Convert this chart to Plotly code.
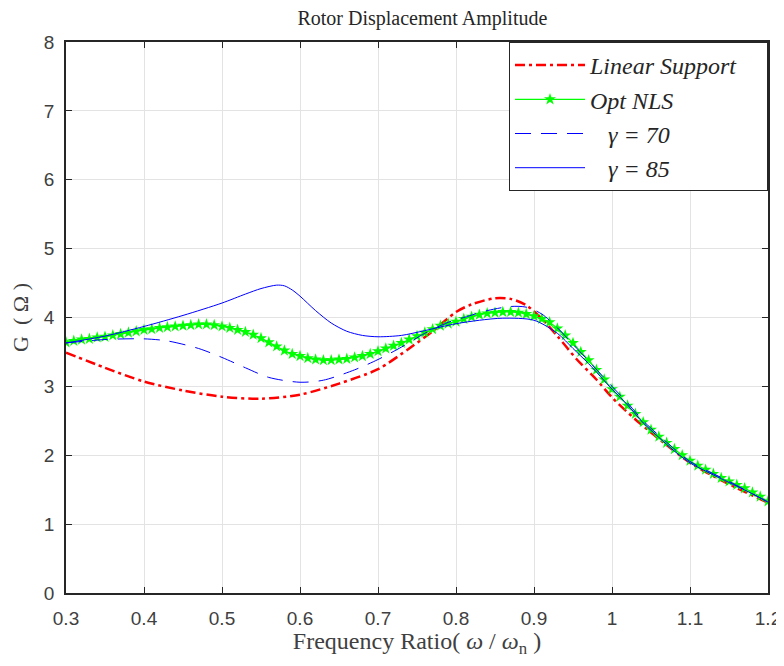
import plotly.graph_objects as go

# ---- data ----
x_opt = [round(0.30 + 0.01 * i, 2) for i in range(91)]
g_opt = [3.64, 3.66, 3.68, 3.69, 3.71, 3.72, 3.74, 3.76, 3.78, 3.80,
         3.82, 3.83, 3.85, 3.86, 3.87, 3.88, 3.89, 3.90, 3.90, 3.89,
         3.87, 3.85, 3.82, 3.79, 3.75, 3.70, 3.64, 3.58, 3.52, 3.47,
         3.44, 3.41, 3.39, 3.38, 3.38, 3.39, 3.40, 3.42, 3.44, 3.47,
         3.51, 3.55, 3.59, 3.63, 3.68, 3.73, 3.78, 3.83, 3.88, 3.91,
         3.94, 3.98, 4.01, 4.04, 4.06, 4.07, 4.08, 4.08, 4.07, 4.05,
         4.02, 3.98, 3.93, 3.84, 3.74, 3.63, 3.50, 3.38, 3.24, 3.10,
         2.96, 2.85, 2.72, 2.60, 2.48, 2.37, 2.27, 2.18, 2.09, 2.00,
         1.92, 1.85, 1.79, 1.73, 1.67, 1.62, 1.57, 1.52, 1.46, 1.40,
         1.33]

x_lin = [0.30, 0.35, 0.40, 0.45, 0.50, 0.55, 0.60, 0.65, 0.70, 0.74, 0.77,
         0.80, 0.82, 0.85, 0.87, 0.89, 0.91, 0.93, 0.955, 0.98, 1.00, 1.03,
         1.06, 1.10, 1.15, 1.20]
g_lin = [3.49, 3.27, 3.07, 2.94, 2.85, 2.82, 2.88, 3.04, 3.25, 3.55, 3.80,
         4.08, 4.19, 4.28, 4.27, 4.18, 3.98, 3.73, 3.39, 3.10, 2.84, 2.52,
         2.24, 1.89, 1.58, 1.31]

x_g70 = [0.30, 0.35, 0.40, 0.43, 0.47, 0.50, 0.53, 0.56, 0.60, 0.63, 0.67,
         0.70, 0.73, 0.76, 0.79, 0.81, 0.84, 0.87, 0.89, 0.91, 0.93, 0.95,
         0.97, 1.00, 1.02, 1.04, 1.07, 1.10, 1.15, 1.20]
g_g70 = [3.63, 3.68, 3.69, 3.66, 3.55, 3.42, 3.27, 3.13, 3.06, 3.09, 3.24,
         3.39, 3.57, 3.77, 3.93, 4.00, 4.10, 4.16, 4.15, 4.05, 3.85, 3.61,
         3.37, 3.00, 2.76, 2.50, 2.19, 1.91, 1.62, 1.32]

x_g85 = [0.30, 0.35, 0.40, 0.45, 0.50, 0.53, 0.55, 0.57, 0.58, 0.59, 0.60,
         0.62, 0.64, 0.66, 0.68, 0.70, 0.73, 0.76, 0.80, 0.83, 0.86, 0.90,
         0.93, 0.95, 0.97, 1.00, 1.02, 1.04, 1.06, 1.08, 1.10, 1.12, 1.14,
         1.16, 1.18, 1.20]
g_g85 = [3.63, 3.73, 3.87, 4.03, 4.21, 4.34, 4.42, 4.47, 4.46, 4.40, 4.31,
         4.10, 3.92, 3.80, 3.74, 3.72, 3.74, 3.81, 3.91, 3.96, 3.99, 3.96,
         3.77, 3.55, 3.33, 2.96, 2.73, 2.47, 2.26, 2.06, 1.89, 1.77, 1.66,
         1.55, 1.44, 1.32]

x_ticks = [0.3, 0.4, 0.5, 0.6, 0.7, 0.8, 0.9, 1.0, 1.1, 1.2]
y_ticks = [0, 1, 2, 3, 4, 5, 6, 7, 8]

SERIF = "Liberation Serif, Times New Roman, serif"
SANS = "Liberation Sans, Arial, sans-serif"

fig = go.Figure()
fig.add_trace(go.Scatter(
    x=x_lin, y=g_lin, mode="lines", name="<i>Linear Support</i>    ",
    line=dict(color="#FF0000", width=2.5, dash="10px,4px,3px,4px", shape="spline", smoothing=0.8)))
fig.add_trace(go.Scatter(
    x=x_opt, y=g_opt, mode="lines+markers", name="<i>Opt NLS</i>",
    line=dict(color="#00FF00", width=1.2, shape="spline", smoothing=0.6),
    marker=dict(symbol="star", size=9, color="#00FF00", line=dict(width=0))))
fig.add_trace(go.Scatter(
    x=x_g70, y=g_g70, mode="lines", name="   <i>γ = 70</i>",
    line=dict(color="#0000FF", width=1, dash="16px,10px", shape="spline", smoothing=0.8)))
fig.add_trace(go.Scatter(
    x=x_g85, y=g_g85, mode="lines", name="   <i>γ = 85</i>",
    line=dict(color="#0000FF", width=1, shape="spline", smoothing=0.8)))

axis_common = dict(
    showgrid=True, gridcolor="#E3E3E3", gridwidth=1,
    showline=True, linecolor="#262626", linewidth=1.5, mirror="ticks",
    ticks="inside", ticklen=6, tickwidth=1, tickcolor="#262626",
    tickfont=dict(family=SANS, size=19, color="#404040"),
    zeroline=False, ticklabeloverflow="allow", automargin=False,
)

# page body has an 8px margin, so the figure is sized/offset accordingly
fig.update_layout(
    width=776, height=650,
    margin=dict(l=58, r=16, t=34, b=65, autoexpand=False),
    paper_bgcolor="white", plot_bgcolor="white",
    title=dict(text="Rotor Displacement Amplitude", x=0.534, xanchor="center",
               y=0.984, yanchor="middle",
               font=dict(family=SERIF, size=20, color="#262626")),
    xaxis=dict(range=[0.3, 1.2], tickvals=x_ticks,
               ticktext=[f"{v:g}" for v in x_ticks], ticklabelstandoff=7,
               title=dict(text="Frequency Ratio( <i>ω</i> / <i>ω</i><sub>n</sub> )",
                          font=dict(family=SERIF, size=24, color="#404040"), standoff=2),
               **axis_common),
    yaxis=dict(range=[0, 8], tickvals=y_ticks, ticklabelstandoff=6,
               title=dict(text="G  ( Ω )", font=dict(family=SERIF, size=22, color="#404040"),
                          standoff=10),
               **axis_common),
    legend=dict(x=1, xanchor="right", y=1, yanchor="top",
                bgcolor="white", bordercolor="#262626", borderwidth=1,
                font=dict(family=SERIF, size=24, color="#262626"),
                itemwidth=70, tracegroupgap=2),
    showlegend=True,
)

fig.write_html("out.html")
